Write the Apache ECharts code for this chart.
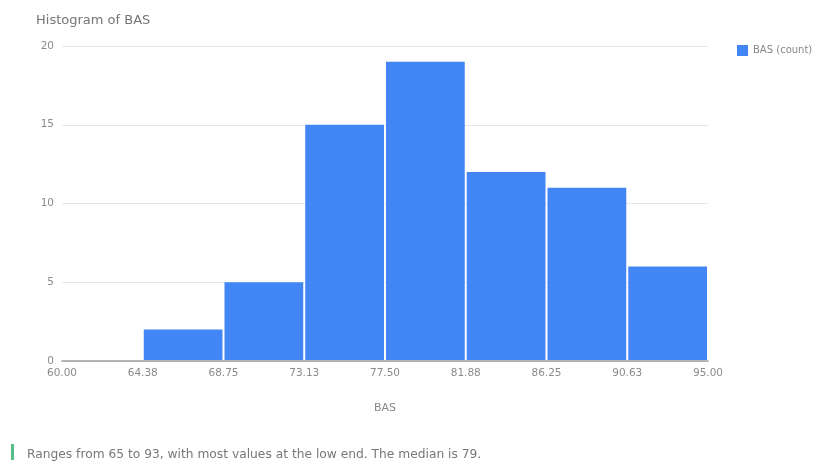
<!DOCTYPE html>
<html>
<head>
<meta charset="utf-8">
<script src="https://cdn.jsdelivr.net/npm/echarts@6/dist/echarts.min.js"></script>
<style>html,body{margin:0;padding:0;background:#fff}#c{width:818px;height:464px}</style>
</head>
<body>
<div id="c"></div>
<script>
var tickLabels = ["60.00","64.38","68.75","73.13","77.50","81.88","86.25","90.63","95.00"];
var counts = [0, 2, 5, 15, 19, 12, 11, 6];
var yTicks = [0, 5, 10, 15, 20];
var seriesName = "BAS (count)";
var chartTitle = "Histogram of BAS";
var axisName = "BAS";
var caption = "Ranges from 65 to 93, with most values at the low end. The median is 79.";

var chart = echarts.init(document.getElementById('c'));
var data = counts.map(function(v, i){ return [i, i + 1, v]; });
var font = "'DejaVu Sans', Verdana, sans-serif";
chart.setOption({
  animation: false,
  textStyle: {fontFamily: font},
  title: [
    {text: chartTitle, left: 31, top: 9, textStyle: {fontSize: 13, fontWeight: 'normal', color: '#757575', fontFamily: font}},
    {text: caption, left: 22, top: 444, textStyle: {fontSize: 12.25, fontWeight: 'normal', color: '#777', fontFamily: font}}
  ],
  graphic: [{type: 'rect', left: 11, top: 444, shape: {width: 3, height: 16}, style: {fill: '#57bb8a'}}],
  legend: {
    left: 732, top: 40, itemWidth: 11, itemHeight: 11, icon: 'rect', itemGap: 6,
    textStyle: {fontSize: 10, color: '#888', fontFamily: font},
    data: [seriesName]
  },
  grid: {left: 62, right: 110, top: 46, bottom: 103, containLabel: false},
  xAxis: {
    type: 'value', min: 0, max: tickLabels.length - 1, interval: 1,
    name: axisName, nameLocation: 'middle', nameGap: 42,
    nameTextStyle: {fontSize: 11, color: '#888', fontFamily: font},
    axisLine: {show: true, lineStyle: {color: '#9e9e9e', width: 1.5}},
    axisTick: {show: false},
    splitLine: {show: false},
    axisLabel: {fontSize: 10.5, color: '#8a8a8a', margin: 7, formatter: function(v){ return tickLabels[Math.round(v)]; }}
  },
  yAxis: {
    type: 'value', min: 0, max: yTicks[yTicks.length - 1], interval: 5,
    axisLine: {show: false}, axisTick: {show: false},
    splitLine: {lineStyle: {color: '#e6e6e6', width: 1}},
    axisLabel: {fontSize: 10.5, color: '#8a8a8a', margin: 8}
  },
  series: [{
    name: seriesName,
    type: 'custom',
    itemStyle: {color: '#4285f4'},
    encode: {x: [0, 1], y: 2},
    data: data,
    renderItem: function(params, api){
      if (api.value(2) <= 0) return null;
      var p0 = api.coord([api.value(0), api.value(2)]);
      var p1 = api.coord([api.value(1), 0]);
      return {
        type: 'rect',
        shape: {x: p0[0] + 1, y: p0[1], width: p1[0] - p0[0] - 2, height: p1[1] - p0[1] - 1},
        style: {fill: '#4285f4'}
      };
    },
    z: 3
  }]
});
</script>
</body>
</html>
